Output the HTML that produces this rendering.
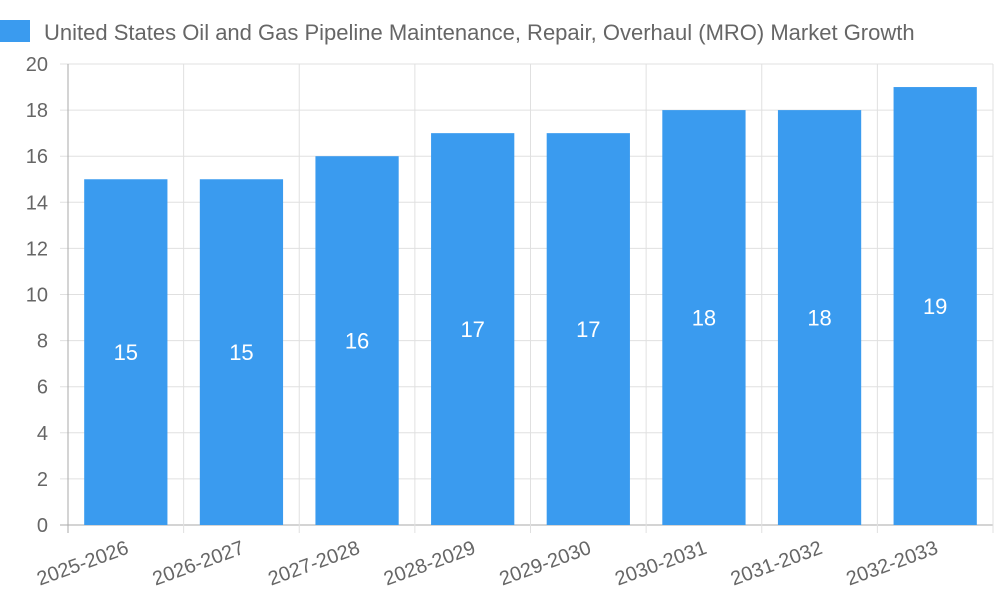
<!DOCTYPE html>
<html><head><meta charset="utf-8"><style>
html,body{margin:0;padding:0;background:#fff}
svg{display:block;font-family:"Liberation Sans",Arial,sans-serif}
</style></head><body>
<svg id="chart" width="1000" height="600"></svg>
<script>
const categories=["2025-2026","2026-2027","2027-2028","2028-2029","2029-2030","2030-2031","2031-2032","2032-2033"];
const values=[15,15,16,17,17,18,18,19];
const yTicks=[0,2,4,6,8,10,12,14,16,18,20];
const NS="http://www.w3.org/2000/svg";
const svg=document.getElementById('chart');
const L=68,R=993,T=64,B=525,yMax=20;
const bw=(R-L)/categories.length;
const y=v=>B-(v/yMax)*(B-T);
const x=i=>L+i*bw;
function mk(t,a,p){const e=document.createElementNS(NS,t);for(const k in a)e.setAttribute(k,a[k]);(p||svg).appendChild(e);return e;}
// legend
const lg=mk('g',{});


mk('rect',{x:0,y:20,width:30,height:22,fill:'#3a9bef'},lg);
const lt=mk('text',{x:44,y:40,'font-size':22,fill:'#666'},lg);
lt.textContent="United States Oil and Gas Pipeline Maintenance, Repair, Overhaul (MRO) Market Growth";
// grid
const grid=mk('g',{});


yTicks.forEach(v=>{
  mk('line',{x1:60,x2:R,y1:y(v),y2:y(v),stroke:v===0?'#aaa':'#e0e0e0','stroke-width':1},grid);
  const t=mk('text',{x:48,y:y(v)+7,'font-size':20,fill:'#666','text-anchor':'end'},grid);
  
  
  t.textContent=v;
});
for(let i=0;i<=categories.length;i++){
  mk('line',{x1:x(i),x2:x(i),y1:T,y2:B+8,stroke:i===0?'#aaa':'#e0e0e0','stroke-width':1},grid);
}
// bars
categories.forEach((c,i)=>{
  const w=bw*0.72,cx=x(i)+bw/2;
  const r=mk('rect',{x:cx-w/2,y:y(values[i]),width:w,height:B-y(values[i]),fill:'#3a9bef'});
  
  
  const vt=mk('text',{x:cx,y:(y(values[i])+B)/2+8,'font-size':22,fill:'#fff','text-anchor':'middle'});
  
  
  vt.textContent=values[i];
  const xt=mk('text',{x:cx+4,y:B+28,'font-size':20,fill:'#666','text-anchor':'end',transform:`rotate(-20 ${cx+4} ${B+28})`});
  
  
  xt.textContent=c;
});
</script>
</body></html>
